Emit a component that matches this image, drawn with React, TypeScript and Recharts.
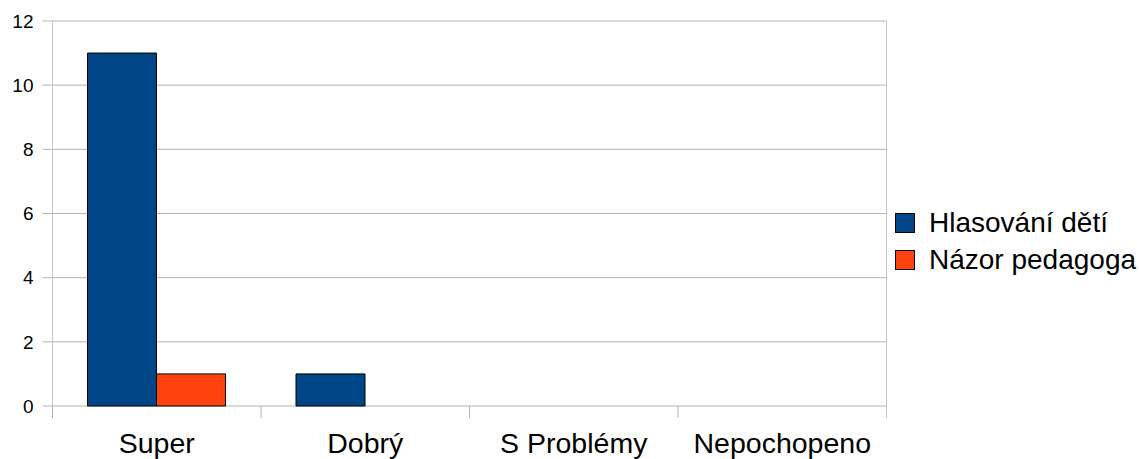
import React from 'react';
import { BarChart, Bar, XAxis, YAxis, CartesianGrid, Legend, ReferenceLine } from 'recharts';

const categories = ['Super', 'Dobrý', 'S Problémy', 'Nepochopeno'];
const hlasovaniDeti = [11, 1, 0, 0];
const nazorPedagoga = [1, 0, 0, 0];
const yTicks = [0, 2, 4, 6, 8, 10, 12];
const seriesNames = ['Hlasování dětí', 'Názor pedagoga'];
const seriesColors = ['#004586', '#ff420e'];

const data = categories.map((c, i) => ({
  name: c,
  hlasovani: hlasovaniDeti[i],
  nazor: nazorPedagoga[i],
  pos: i + 0.5,
}));

const LABEL_GAP = 27;
const TICK_LEN = 12;

const LegendContent = (props: any) => {
  const items = props.payload || [];
  return (
    <div style={{ fontFamily: 'Liberation Sans, Arial, sans-serif', width: 244 }}>
      {items.map((it: any, i: number) => (
        <div key={i} style={{ display: 'flex', alignItems: 'center', height: 36.5 }}>
          <div
            style={{
              width: 20,
              height: 20,
              background: it.color,
              border: '1px solid #000',
              boxSizing: 'border-box',
              marginRight: 14,
              flex: 'none',
            }}
          />
          <span style={{ fontSize: 28, color: '#000', whiteSpace: 'nowrap', lineHeight: '28px' }}>{it.value}</span>
        </div>
      ))}
    </div>
  );
};

const CategoryTick = (props: any) => {
  const { x, y, payload, index, visibleTicksCount } = props;
  const half = payload && payload.offset ? payload.offset : 0;
  const axisY = y - LABEL_GAP;
  const isLast = index === (visibleTicksCount ?? categories.length) - 1;
  return (
    <g>
      <line x1={x - half} x2={x - half} y1={axisY} y2={axisY + TICK_LEN} stroke="#b3b3b3" strokeWidth={1} />
      {isLast && (
        <line x1={x + half} x2={x + half} y1={axisY} y2={axisY + TICK_LEN} stroke="#c8c8c8" strokeWidth={1} />
      )}
      <text x={x} y={y} dy="0.71em" textAnchor="middle" fontSize={28.5} fill="#000">
        {payload.value}
      </text>
    </g>
  );
};

export default function App() {
  return (
    <div style={{ position: 'absolute', left: 0, top: 0, width: 1139, height: 459, background: '#fff', fontFamily: 'Liberation Sans, Arial, sans-serif' }}>
      <BarChart
        width={1139}
        height={459}
        data={data}
        margin={{ top: 21, right: 8.5, left: 0, bottom: 0 }}
        barCategoryGap={35}
        barGap={0}
      >
        <CartesianGrid horizontal={true} vertical={false} stroke="#b3b3b3" strokeWidth={1} />
        <XAxis
          xAxisId="grid"
          dataKey="pos"
          type="number"
          domain={[0, 4]}
          height={0}
          tick={false}
          tickLine={false}
          axisLine={false}
          allowDataOverflow
        />
        <XAxis
          dataKey="name"
          height={53}
          tickLine={false}
          axisLine={false}
          tickSize={0}
          tickMargin={LABEL_GAP}
          tick={<CategoryTick />}
          interval={0}
        />
        <YAxis
          width={52.5}
          domain={[0, 12]}
          ticks={yTicks}
          interval={0}
          tickSize={10}
          tickMargin={9}
          tickLine={{ stroke: '#b3b3b3' }}
          axisLine={{ stroke: '#c8c8c8' }}
          tick={{ fontSize: 19, fill: '#000' }}
        />
        <ReferenceLine x={4} xAxisId="grid" stroke="#c8c8c8" strokeWidth={1} ifOverflow="visible" />
        <Legend
          layout="vertical"
          verticalAlign="middle"
          align="right"
          content={<LegendContent />}
          wrapperStyle={{ left: 895, top: 205, width: 244, right: 'auto', bottom: 'auto' }}
        />
        <Bar dataKey="hlasovani" name={seriesNames[0]} fill={seriesColors[0]} stroke="#000" strokeWidth={1} isAnimationActive={false} />
        <Bar dataKey="nazor" name={seriesNames[1]} fill={seriesColors[1]} stroke="#000" strokeWidth={1} isAnimationActive={false} />
      </BarChart>
    </div>
  );
}
